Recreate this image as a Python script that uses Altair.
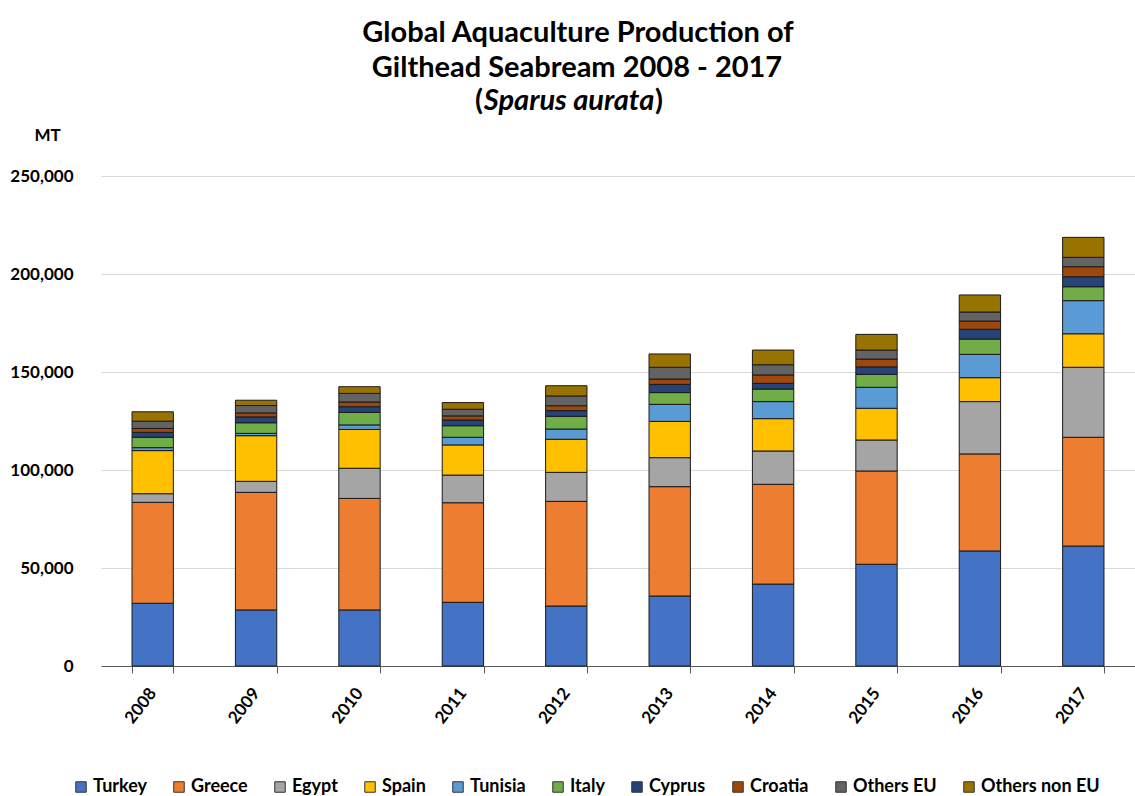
import altair as alt
import pandas as pd

# Gilthead seabream aquaculture production by country, tonnes
years = ["2008", "2009", "2010", "2011", "2012", "2013", "2014", "2015", "2016", "2017"]
countries = ["Turkey", "Greece", "Egypt", "Spain", "Tunisia", "Italy",
             "Cyprus", "Croatia", "Others EU", "Others non EU"]
colors = ["#4472C4", "#ED7D31", "#A5A5A5", "#FFC000", "#5B9BD5", "#70AD47",
          "#264478", "#9E480E", "#636363", "#997300"]

turkey = [32000, 28600, 28600, 32500, 30600, 35700, 41800, 51900, 58700, 61200]
greece = [51500, 60000, 56900, 50800, 53400, 55800, 50900, 47600, 49500, 55500]
egypt = [4400, 5600, 15400, 14100, 14800, 14800, 17000, 15800, 26700, 35700]
spain = [22000, 23300, 19800, 15400, 16900, 18500, 16500, 16200, 12200, 17100]
tunisia = [1500, 1200, 2300, 3900, 5200, 8700, 8700, 10700, 11900, 16900]
italy = [5300, 5400, 6400, 5900, 6500, 6000, 6400, 6600, 7800, 7100]
cyprus = [2500, 3000, 2900, 2900, 2900, 4200, 2900, 3800, 5000, 5100]
croatia = [2000, 2000, 2400, 2100, 2500, 2700, 4300, 4000, 4200, 5100]
others_eu = [3700, 3800, 4400, 3400, 5000, 6000, 5200, 4600, 4600, 4800]
others_non_eu = [4800, 2700, 3400, 3400, 5200, 6800, 7500, 8000, 8700, 10200]

y_ticks = [0, 50000, 100000, 150000, 200000, 250000]

series = [turkey, greece, egypt, spain, tunisia, italy,
          cyprus, croatia, others_eu, others_non_eu]

rows = []
for idx, (country, values) in enumerate(zip(countries, series)):
    for year, v in zip(years, values):
        rows.append({"year": year, "country": country, "stack": idx, "tonnes": v})
df = pd.DataFrame(rows)

FONT = "Lato"
INK = "#000000"

bars = alt.Chart(df).mark_bar(stroke="#1a1a1a", strokeWidth=1).encode(
    x=alt.X(
        "year:N", sort=years, title=None,
        scale=alt.Scale(paddingInner=0.6, paddingOuter=0.3),
        axis=alt.Axis(
            labelAngle=-52, labelAlign="right", labelBaseline="middle",
            labelPadding=17, tickBand="extent", tickSize=7,
            domainColor="#595959", tickColor="#595959", grid=False,
            labelFont=FONT, labelFontSize=17, labelFontWeight="bold",
            labelColor=INK,
        ),
    ),
    y=alt.Y(
        "tonnes:Q", stack="zero",
        scale=alt.Scale(domain=[0, 250000], nice=False),
        axis=alt.Axis(
            values=y_ticks, format=",.0f", domain=False, ticks=False,
            gridColor="#d9d9d9", gridWidth=1,
            labelFont=FONT, labelFontSize=17, labelFontWeight="bold",
            labelColor=INK, labelPadding=28,
            title="MT", titleAngle=0, titleX=-54, titleY=-36,
            titleAlign="center", titleBaseline="alphabetic",
            titleFont=FONT, titleFontSize=17, titleFontWeight="bold",
            titleColor=INK,
        ),
    ),
    color=alt.Color(
        "country:N", sort=countries,
        scale=alt.Scale(domain=countries, range=colors),
        legend=alt.Legend(
            title=None, orient="none", legendX=-29, legendY=602,
            direction="horizontal", columns=10, symbolType="square",
            symbolSize=110, symbolStrokeColor="#333333", symbolStrokeWidth=1,
            labelFont=FONT, labelFontSize=18, labelFontWeight="bold",
            labelColor=INK, columnPadding=23, labelOffset=3,
        ),
    ),
    order=alt.Order("stack:Q", sort="ascending"),
)

one_row = pd.DataFrame({"k": [0]})


def heading(text, x, y, italic=False, align="center"):
    return alt.Chart(one_row).mark_text(
        text=text, font=FONT, fontSize=29, fontWeight="bold",
        fontStyle="italic" if italic else "normal",
        align=align, baseline="alphabetic", color=INK,
    ).encode(x=alt.value(x), y=alt.value(y))


# "(Sparus aurata)": italic species name with upright brackets either side
species_w = 170
species_x = 468
title_layers = [
    heading("Global Aquaculture Production of", 477, -134),
    heading("Gilthead Seabream 2008 - 2017", 476, -99),
    heading("Sparus aurata", species_x, -66, italic=True),
    heading("(", species_x - species_w / 2 - 1, -66, align="right"),
    heading(")", species_x + species_w / 2 + 1, -66, align="left"),
]

chart = alt.layer(bars, *title_layers).properties(
    width=1034, height=490,
    autosize=alt.AutoSizeParams(type="none"),
    padding={"left": 101, "top": 176, "right": 0, "bottom": 130},
    background="white",
).configure_view(stroke=None)

chart.save("out.html", embed_options={"renderer": "svg", "actions": False})
